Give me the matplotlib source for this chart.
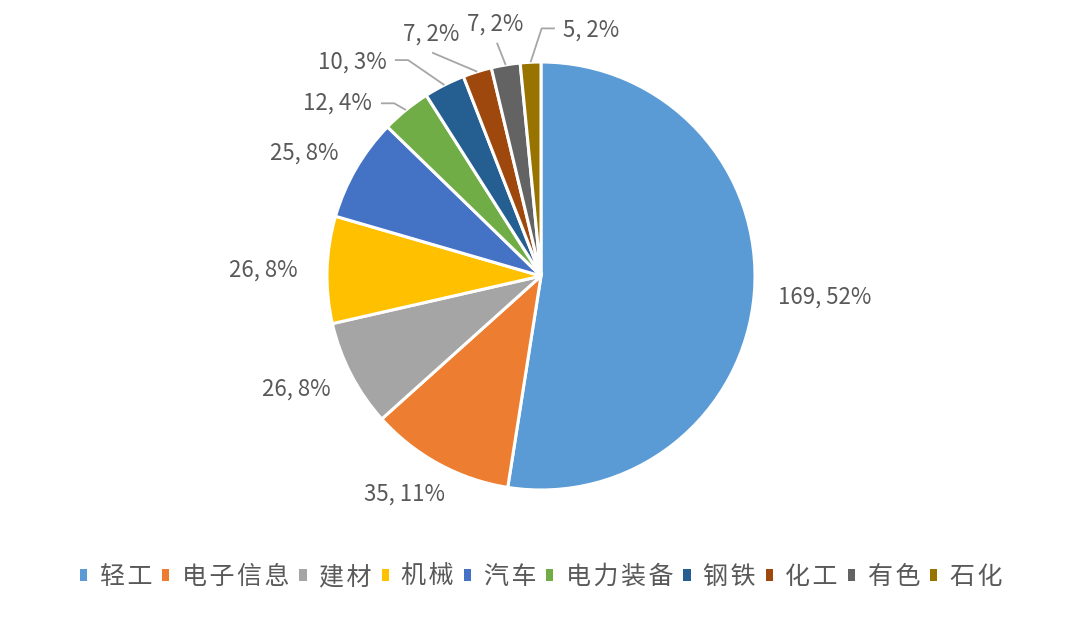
import matplotlib
matplotlib.use('Agg')
import matplotlib.pyplot as plt
from matplotlib.patches import Rectangle
import numpy as np

plt.rcParams['font.family'] = ['Noto Sans CJK SC', 'DejaVu Sans']

# Data
categories = ['轻工', '电子信息', '建材', '机械', '汽车', '电力装备', '钢铁', '化工', '有色', '石化']
values = [169, 35, 26, 26, 25, 12, 10, 7, 7, 5]
percents = ['52%', '11%', '8%', '8%', '8%', '4%', '3%', '2%', '2%', '2%']
colors = ['#5B9BD5', '#ED7D31', '#A5A5A5', '#FFC000', '#4472C4',
          '#70AD47', '#255E91', '#9E480E', '#636363', '#997300']

text_color = '#595959'
line_color = '#A6A6A6'

fig = plt.figure(figsize=(10.8, 6.17), dpi=100)
# pie centre at (541, 276) px, radius 214 px
ax = fig.add_axes([(541 - 214) / 1080, (617 - 276 - 214) / 617, 428 / 1080, 428 / 617])

wedges, _ = ax.pie(values, colors=colors, startangle=90, counterclock=False,
                   radius=1.0, wedgeprops=dict(edgecolor='white', linewidth=2.2))
ax.set_xlim(-1, 1)
ax.set_ylim(-1, 1)
ax.set_aspect('auto')
ax.axis('off')

total = sum(values)
cum = np.cumsum([0] + values)
mid_angles = [90 - (cum[i] + values[i] / 2) / total * 360 for i in range(len(values))]

# labels placed just outside the slice (no leader line)
label_dist = [1.33, 1.20, 1.26, 1.30, 1.245]
label_shift = [0.3, -3.5, -2.6, 0.4, 2.7]  # degrees
for i, d in enumerate(label_dist):
    a = np.radians(mid_angles[i] + label_shift[i])
    ax.text(d * np.cos(a), d * np.sin(a), f'{values[i]}, {percents[i]}',
            ha='center', va='center', fontsize=16, color=text_color, clip_on=False)

# small slices: labels with leader lines (text pos, line points in axes units)
leader_text = {5: (-0.949, 0.806), 6: (-0.883, 1.000), 7: (-0.514, 1.131),
               8: (-0.215, 1.178), 9: (0.234, 1.150)}
leader_pts = {5: [(-0.748, 0.807), (-0.686, 0.807)],
              6: [(-0.683, 1.009), (-0.621, 1.009)],
              7: [(-0.509, 1.044)],
              8: [(-0.206, 1.090)],
              9: [(0.065, 1.157), (0.003, 1.157)]}
for i, (tx, ty) in leader_text.items():
    a = np.radians(mid_angles[i])
    ex, ey = 1.0 * np.cos(a), 1.0 * np.sin(a)
    pts = leader_pts[i] + [(ex, ey)]
    xs = [p[0] for p in pts]
    ys = [p[1] for p in pts]
    ax.plot(xs, ys, color=line_color, lw=1.3, clip_on=False, solid_capstyle='butt')
    ax.text(tx, ty, f'{values[i]}, {percents[i]}',
            ha='center', va='center', fontsize=16, color=text_color, clip_on=False)

# legend, characters slightly spread like the original
spaced = ['\u200a'.join(c) for c in categories]
handles = [Rectangle((0, 0), 1, 1, facecolor=c, edgecolor='none') for c in colors]
fig.legend(handles, spaced, loc='center', bbox_to_anchor=(541 / 1080, 1 - 577 / 617),
           ncol=10, frameon=False, prop={'size': 18, 'weight': 'light'},
           labelcolor=text_color,
           handlelength=0.29, handleheight=0.33, handletextpad=0.5, columnspacing=0.4)

plt.savefig('out.png', dpi=100)
